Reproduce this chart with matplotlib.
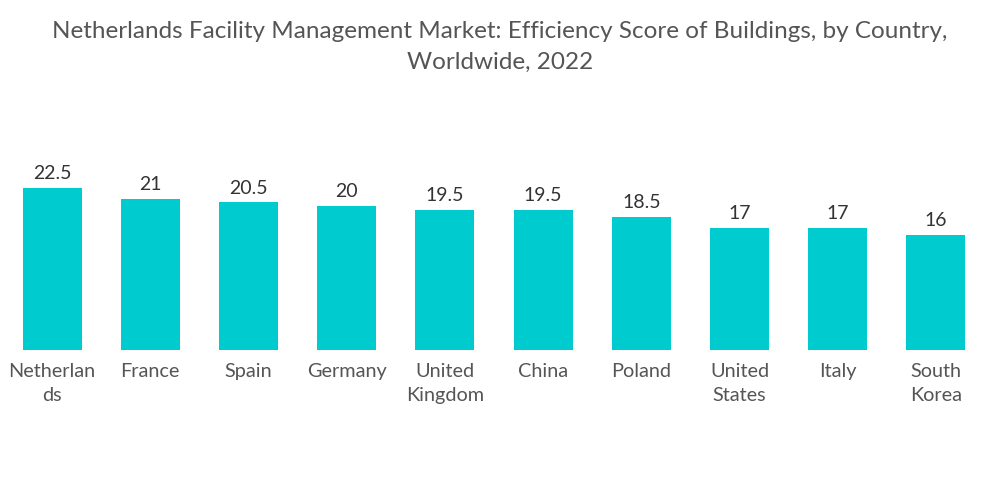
import matplotlib
matplotlib.use("Agg")
import matplotlib.pyplot as plt

# Data
countries = ["Netherlan\nds", "France", "Spain", "Germany", "United\nKingdom",
             "China", "Poland", "United\nStates", "Italy", "South\nKorea"]
scores = [22.5, 21, 20.5, 20, 19.5, 19.5, 18.5, 17, 17, 16]
value_labels = ["22.5", "21", "20.5", "20", "19.5", "19.5", "18.5", "17", "17", "16"]

plt.rcParams['font.family'] = ['Lato', 'DejaVu Sans']

fig = plt.figure(figsize=(10, 5.04), dpi=100)
ax = fig.add_axes([0.003, 0.305, 0.982, 0.425])

x = range(len(countries))
bars = ax.bar(x, scores, width=0.6, color="#00CCD0")

for xi, v, lab in zip(x, scores, value_labels):
    ax.annotate(lab, (xi, v), xytext=(0, 4), textcoords="offset points",
                ha="center", va="bottom", fontsize=14, color="#333333")

ax.set_xlim(-0.5, len(countries) - 0.5)
ax.set_ylim(0, 29.7)
ax.set_xticks(list(x))
ax.set_xticklabels(countries, fontsize=14.3, color="#555555", linespacing=1.55)
ax.tick_params(axis="x", length=0, pad=9)
ax.set_yticks([])
for s in ax.spines.values():
    s.set_visible(False)

fig.suptitle("Netherlands Facility Management Market: Efficiency Score of Buildings, by Country,\nWorldwide, 2022",
             y=0.958, fontsize=17.5, color="#555555", linespacing=1.55)

fig.savefig("out.png", dpi=100)
